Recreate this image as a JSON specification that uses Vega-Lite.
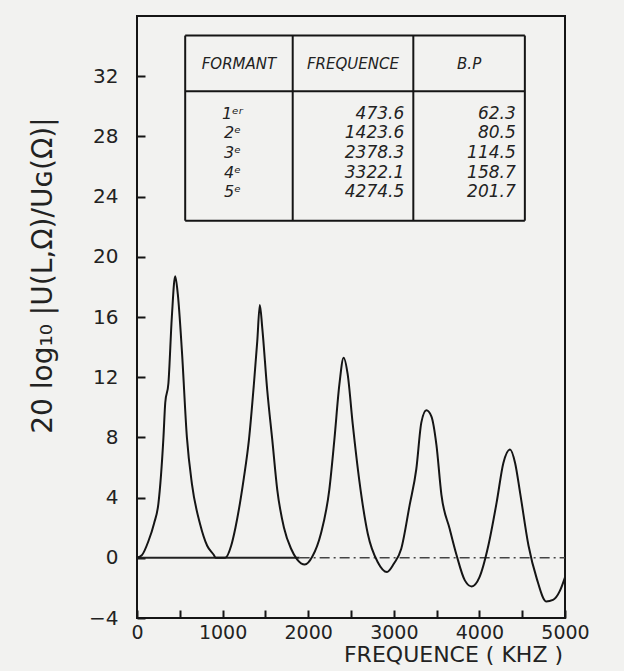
{
  "$schema": "https://vega.github.io/schema/vega-lite/v6.json",
  "width": 428,
  "height": 602,
  "autosize": {"type": "none"},
  "padding": {"left": 137, "top": 16, "right": 59, "bottom": 53},
  "background": "#f2f2f0",
  "config": {
    "view": {"stroke": "#151515", "strokeWidth": 2},
    "font": "DejaVu Sans"
  },
  "datasets": {
    "curve": [
      {"f": 0, "db": 0}, {"f": 60, "db": 0.2}, {"f": 133, "db": 1.1}, {"f": 200, "db": 2.3},
      {"f": 250, "db": 3.6}, {"f": 309, "db": 8.0}, {"f": 330, "db": 10.3}, {"f": 367, "db": 11.6},
      {"f": 407, "db": 16.0}, {"f": 446, "db": 18.7}, {"f": 477, "db": 17.5}, {"f": 524, "db": 13.8},
      {"f": 583, "db": 8.0}, {"f": 642, "db": 4.9}, {"f": 739, "db": 2.2}, {"f": 820, "db": 0.8},
      {"f": 896, "db": 0.2}, {"f": 920, "db": 0}, {"f": 1030, "db": 0}, {"f": 1100, "db": 0.8},
      {"f": 1150, "db": 2.0}, {"f": 1248, "db": 5.3}, {"f": 1307, "db": 7.8}, {"f": 1365, "db": 11.5},
      {"f": 1405, "db": 14.4}, {"f": 1435, "db": 16.8}, {"f": 1463, "db": 15.3}, {"f": 1522, "db": 11.1},
      {"f": 1581, "db": 7.8}, {"f": 1639, "db": 4.5}, {"f": 1717, "db": 2.0}, {"f": 1800, "db": 0.6},
      {"f": 1870, "db": -0.1}, {"f": 1960, "db": -0.45}, {"f": 2050, "db": 0.1}, {"f": 2148, "db": 1.6},
      {"f": 2246, "db": 4.5}, {"f": 2305, "db": 7.8}, {"f": 2364, "db": 11.5}, {"f": 2414, "db": 13.3},
      {"f": 2461, "db": 12.2}, {"f": 2520, "db": 8.9}, {"f": 2598, "db": 5.1}, {"f": 2696, "db": 1.6},
      {"f": 2813, "db": -0.3}, {"f": 2920, "db": -0.95}, {"f": 3000, "db": -0.4}, {"f": 3087, "db": 0.6},
      {"f": 3185, "db": 3.5}, {"f": 3263, "db": 5.9}, {"f": 3322, "db": 9.0}, {"f": 3380, "db": 9.8},
      {"f": 3439, "db": 9.4}, {"f": 3498, "db": 7.5}, {"f": 3556, "db": 4.2}, {"f": 3654, "db": 1.9},
      {"f": 3732, "db": 0.2}, {"f": 3830, "db": -1.5}, {"f": 3910, "db": -1.9}, {"f": 4000, "db": -1.3},
      {"f": 4104, "db": 0.8}, {"f": 4202, "db": 3.7}, {"f": 4280, "db": 6.3}, {"f": 4358, "db": 7.2},
      {"f": 4417, "db": 6.3}, {"f": 4476, "db": 4.3}, {"f": 4574, "db": 0.8}, {"f": 4671, "db": -1.4},
      {"f": 4780, "db": -2.9}, {"f": 4860, "db": -2.8}, {"f": 4940, "db": -2.2}, {"f": 5000, "db": -1.3}
    ],
    "zeroSolid": [{"f": 0, "f2": 1900, "db": 0}],
    "zeroDashed": [{"f": 1900, "f2": 5000, "db": 0}],
    "tableLines": [
      {"x": 563, "x2": 4531, "y": 34.7, "y2": 34.7},
      {"x": 563, "x2": 4531, "y": 31.0, "y2": 31.0},
      {"x": 563, "x2": 4531, "y": 22.4, "y2": 22.4},
      {"x": 563, "x2": 563, "y": 22.4, "y2": 34.7},
      {"x": 1819, "x2": 1819, "y": 22.4, "y2": 34.7},
      {"x": 3228, "x2": 3228, "y": 22.4, "y2": 34.7},
      {"x": 4531, "x2": 4531, "y": 22.4, "y2": 34.7}
    ],
    "tableHeader": [
      {"x": 1191, "y": 32.8, "t": "FORMANT"},
      {"x": 2523, "y": 32.8, "t": "FREQUENCE"},
      {"x": 3880, "y": 32.8, "t": "B.P"}
    ],
    "tableFormant": [
      {"x": 1115, "y": 29.5, "t": "1ᵉʳ"},
      {"x": 1115, "y": 28.2, "t": "2ᵉ"},
      {"x": 1115, "y": 26.9, "t": "3ᵉ"},
      {"x": 1115, "y": 25.6, "t": "4ᵉ"},
      {"x": 1115, "y": 24.3, "t": "5ᵉ"}
    ],
    "tableFreq": [
      {"x": 3122, "y": 29.5, "t": "473.6"},
      {"x": 3122, "y": 28.2, "t": "1423.6"},
      {"x": 3122, "y": 26.9, "t": "2378.3"},
      {"x": 3122, "y": 25.6, "t": "3322.1"},
      {"x": 3122, "y": 24.3, "t": "4274.5"}
    ],
    "tableBP": [
      {"x": 4425, "y": 29.5, "t": "62.3"},
      {"x": 4425, "y": 28.2, "t": "80.5"},
      {"x": 4425, "y": 26.9, "t": "114.5"},
      {"x": 4425, "y": 25.6, "t": "158.7"},
      {"x": 4425, "y": 24.3, "t": "201.7"}
    ]
  },
  "layer": [
    {
      "data": {"name": "zeroSolid"},
      "mark": {"type": "rule", "color": "#222", "strokeWidth": 2},
      "encoding": {
        "x": {"field": "f", "type": "quantitative", "scale": {"domain": [0, 5000], "nice": false, "zero": false},
          "axis": {
            "values": [0, 500, 1000, 1500, 2000, 2500, 3000, 3500, 4000, 4500, 5000],
            "labelExpr": "datum.value % 1000 === 0 ? datum.label : ''",
            "format": "d",
            "offset": -8,
            "tickSize": 8, "tickWidth": 2, "tickColor": "#151515",
            "domain": false, "grid": false,
            "labelFontSize": 19, "labelColor": "#222", "labelPadding": 5,
            "labelFlush": false,
            "title": "FREQUENCE   ( KHZ )",
            "titleFontSize": 22, "titleFontWeight": "normal", "titleColor": "#222",
            "titleX": 316, "titleY": 34, "titleBaseline": "top"
          }
        },
        "x2": {"field": "f2"},
        "y": {"field": "db", "type": "quantitative", "scale": {"domain": [-4, 36], "nice": false, "zero": false},
          "axis": {
            "values": [-4, -2, 0, 2, 4, 6, 8, 10, 12, 14, 16, 18, 20, 22, 24, 26, 28, 30, 32, 34],
            "labelExpr": "(datum.value % 4 === 0 && datum.value <= 32) ? datum.label : ''",
            "offset": -8,
            "tickSize": 8, "tickWidth": 2, "tickColor": "#151515",
            "domain": false, "grid": false,
            "labelFontSize": 20, "labelColor": "#222", "labelPadding": 19,
            "labelFlush": false,
            "title": "20 log₁₀ |U(L,Ω)/Uɢ(Ω)|",
            "titleFontSize": 28, "titleFontWeight": "normal", "titleColor": "#222",
            "titleX": -88, "titleY": 259
          }
        }
      }
    },
    {
      "data": {"name": "zeroDashed"},
      "mark": {"type": "rule", "color": "#444", "strokeWidth": 1.5, "strokeDash": [10, 4, 2, 4]},
      "encoding": {
        "x": {"field": "f", "type": "quantitative"},
        "x2": {"field": "f2"},
        "y": {"field": "db", "type": "quantitative"}
      }
    },
    {
      "data": {"name": "curve"},
      "mark": {"type": "line", "color": "#151515", "strokeWidth": 2, "interpolate": "monotone"},
      "encoding": {
        "x": {"field": "f", "type": "quantitative"},
        "y": {"field": "db", "type": "quantitative"}
      }
    },
    {
      "data": {"name": "tableLines"},
      "mark": {"type": "rule", "color": "#151515", "strokeWidth": 2},
      "encoding": {
        "x": {"field": "x", "type": "quantitative"},
        "x2": {"field": "x2"},
        "y": {"field": "y", "type": "quantitative"},
        "y2": {"field": "y2"}
      }
    },
    {
      "data": {"name": "tableHeader"},
      "mark": {"type": "text", "fontSize": 15, "color": "#222", "align": "center", "baseline": "middle", "fontStyle": "italic"},
      "encoding": {
        "x": {"field": "x", "type": "quantitative"},
        "y": {"field": "y", "type": "quantitative"},
        "text": {"field": "t"}
      }
    },
    {
      "data": {"name": "tableFormant"},
      "mark": {"type": "text", "fontSize": 16, "color": "#222", "align": "center", "baseline": "middle", "fontStyle": "italic"},
      "encoding": {
        "x": {"field": "x", "type": "quantitative"},
        "y": {"field": "y", "type": "quantitative"},
        "text": {"field": "t"}
      }
    },
    {
      "data": {"name": "tableFreq"},
      "mark": {"type": "text", "fontSize": 17, "color": "#222", "align": "right", "baseline": "middle", "fontStyle": "italic"},
      "encoding": {
        "x": {"field": "x", "type": "quantitative"},
        "y": {"field": "y", "type": "quantitative"},
        "text": {"field": "t"}
      }
    },
    {
      "data": {"name": "tableBP"},
      "mark": {"type": "text", "fontSize": 17, "color": "#222", "align": "right", "baseline": "middle", "fontStyle": "italic"},
      "encoding": {
        "x": {"field": "x", "type": "quantitative"},
        "y": {"field": "y", "type": "quantitative"},
        "text": {"field": "t"}
      }
    }
  ]
}
